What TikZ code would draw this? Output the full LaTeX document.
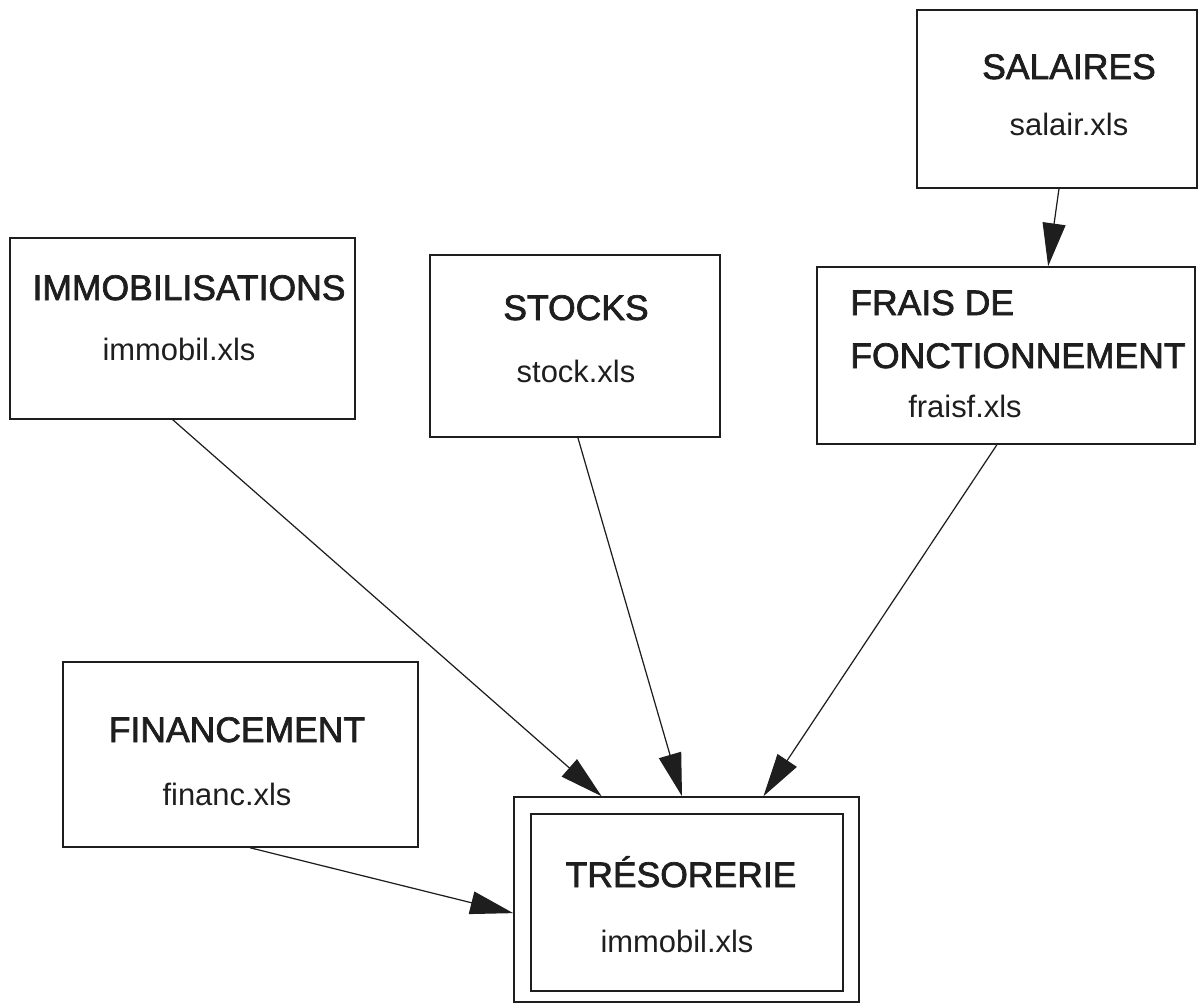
\documentclass[tikz,border=0pt]{standalone}
\usepackage{fontspec}
\setmainfont{Liberation Sans}
\newfontfamily\ttlfont[FakeBold=2]{Liberation Sans}
\usetikzlibrary{arrows.meta,calc}
\definecolor{ink}{HTML}{1E1E1E}
\begin{document}
\begin{tikzpicture}[x=0.02cm,y=-0.02cm,
  box/.style={draw=ink,line width=0.9pt,inner sep=0pt},
  ttl/.style={font=\ttlfont\fontsize{20.2}{22}\selectfont,text=ink,inner sep=0pt,anchor=base},
  sub/.style={font=\fontsize{17.6}{20}\selectfont,text=ink,inner sep=0pt,anchor=base},
  conn/.style={draw=ink,line width=0.7pt,-{Triangle[length=0.86cm,width=0.46cm]}}]
\useasboundingbox (0,0) rectangle (1200,1004);
% boxes
\node[box,minimum width=5.6cm,minimum height=3.56cm] (sal) at (1057,99) {};
\node[box,minimum width=6.9cm,minimum height=3.62cm] (imm) at (182.5,328.5) {};
\node[box,minimum width=5.8cm,minimum height=3.64cm] (sto) at (575,346) {};
\node[box,minimum width=7.56cm,minimum height=3.54cm] (fra) at (1006,355.5) {};
\node[box,minimum width=7.1cm,minimum height=3.7cm] (fin) at (240.5,754.5) {};
\node[box,minimum width=6.9cm,minimum height=4.1cm] (tro) at (686.5,899.5) {};
\node[box,minimum width=6.24cm,minimum height=3.54cm] (tri) at (687,902.5) {};
% texts
\node[ttl] (salT) at (1069,79) {SALAIRES};
\node[sub] (salF) at (1069,135) {salair.xls};
\node[ttl] (immT) at (189,300) {IMMOBILISATIONS};
\node[sub] (immF) at (179,360) {immobil.xls};
\node[ttl] (stoT) at (576,320) {STOCKS};
\node[sub] (stoF) at (576,382) {stock.xls};
\node[ttl,anchor=base west] (fraT1) at (850,315) {FRAIS DE};
\node[ttl,anchor=base west] (fraT2) at (850,368) {FONCTIONNEMENT};
\node[sub] (fraF) at (965,417) {fraisf.xls};
\node[ttl] (finT) at (237,742) {FINANCEMENT};
\node[sub] (finF) at (227,805) {financ.xls};
\node[ttl] (treT) at (681,887) {TRÉSORERIE};
\node[sub] (treF) at (677,952) {immobil.xls};
% connectors
\draw[conn] ($(sal.south west)!0.507!(sal.south east)$) -- ($(fra.north west)!0.611!(fra.north east)$);
\draw[conn] ($(imm.south west)!0.472!(imm.south east)$) -- ($(tro.north west)!0.255!(tro.north east)$);
\draw[conn] ($(sto.south west)!0.51!(sto.south east)$) -- ($(tro.north west)!0.487!(tro.north east)$);
\draw[conn] ($(fra.south west)!0.476!(fra.south east)$) -- ($(tro.north west)!0.722!(tro.north east)$);
\draw[conn] ($(fin.south west)!0.527!(fin.south east)$) -- ($(tro.north west)!0.566!(tro.south west)$);
\end{tikzpicture}
\end{document}
